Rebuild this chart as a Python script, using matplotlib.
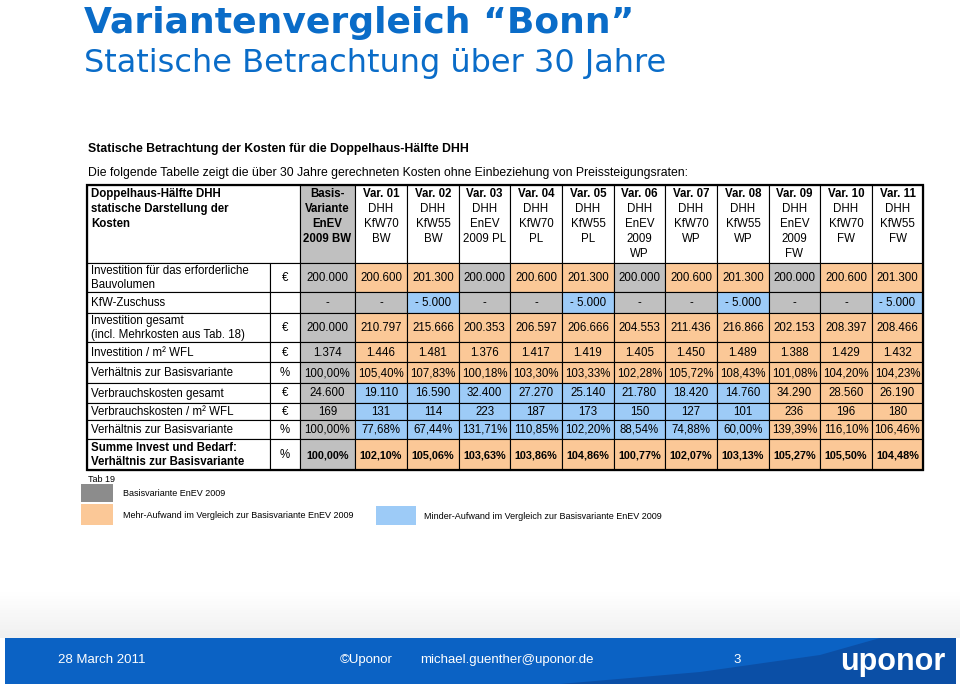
import matplotlib
matplotlib.use("Agg")
import matplotlib.pyplot as plt
from matplotlib.patches import Rectangle, Polygon
from matplotlib import font_manager
import numpy as np

# fonts: narrow face for the scanned table if we have one
installed = {f.name for f in font_manager.fontManager.ttflist}
NARROW = "Liberation Sans Narrow" if "Liberation Sans Narrow" in installed else "Liberation Sans"
SANS = "Liberation Sans"
WIDE = "DejaVu Sans"

# ---------------- data ----------------
title = "Variantenvergleich \u201cBonn\u201d"
subtitle = "Statische Betrachtung über 30 Jahre"
table_title = "Statische Betrachtung der Kosten für die Doppelhaus-Hälfte DHH"
table_intro = ("Die folgende Tabelle zeigt die über 30 Jahre gerechneten Kosten "
               "ohne Einbeziehung von Preissteigungsraten:")
corner_label = "Doppelhaus-Hälfte DHH\nstatische Darstellung der\nKosten"

col_names = ["Basis-", "Var. 01", "Var. 02", "Var. 03", "Var. 04", "Var. 05",
             "Var. 06", "Var. 07", "Var. 08", "Var. 09", "Var. 10", "Var. 11"]
col_desc = ["Variante\nEnEV\n2009 BW", "DHH\nKfW70\nBW", "DHH\nKfW55\nBW",
            "DHH\nEnEV\n2009 PL", "DHH\nKfW70\nPL", "DHH\nKfW55\nPL",
            "DHH\nEnEV\n2009\nWP", "DHH\nKfW70\nWP", "DHH\nKfW55\nWP",
            "DHH\nEnEV\n2009\nFW", "DHH\nKfW70\nFW", "DHH\nKfW55\nFW"]

row_labels = ["Investition für das erforderliche\nBauvolumen",
              "KfW-Zuschuss",
              "Investition gesamt\n(incl. Mehrkosten aus Tab. 18)",
              "Investition / m² WFL",
              "Verhältnis zur Basisvariante",
              "Verbrauchskosten gesamt",
              "Verbrauchskosten / m² WFL",
              "Verhältnis zur Basisvariante",
              "Summe Invest und Bedarf:\nVerhältnis zur Basisvariante"]
units = ["€", "", "€", "€", "%", "€", "€", "%", "%"]

invest = ["200.000", "200.600", "201.300", "200.000", "200.600", "201.300",
          "200.000", "200.600", "201.300", "200.000", "200.600", "201.300"]
kfw = ["-", "-", "- 5.000", "-", "-", "- 5.000",
       "-", "-", "- 5.000", "-", "-", "- 5.000"]
invest_total = ["200.000", "210.797", "215.666", "200.353", "206.597", "206.666",
                "204.553", "211.436", "216.866", "202.153", "208.397", "208.466"]
invest_m2 = ["1.374", "1.446", "1.481", "1.376", "1.417", "1.419",
             "1.405", "1.450", "1.489", "1.388", "1.429", "1.432"]
invest_ratio = ["100,00%", "105,40%", "107,83%", "100,18%", "103,30%", "103,33%",
                "102,28%", "105,72%", "108,43%", "101,08%", "104,20%", "104,23%"]
cons = ["24.600", "19.110", "16.590", "32.400", "27.270", "25.140",
        "21.780", "18.420", "14.760", "34.290", "28.560", "26.190"]
cons_m2 = ["169", "131", "114", "223", "187", "173",
           "150", "127", "101", "236", "196", "180"]
cons_ratio = ["100,00%", "77,68%", "67,44%", "131,71%", "110,85%", "102,20%",
              "88,54%", "74,88%", "60,00%", "139,39%", "116,10%", "106,46%"]
total_ratio = ["100,00%", "102,10%", "105,06%", "103,63%", "103,86%", "104,86%",
               "100,77%", "102,07%", "103,13%", "105,27%", "105,50%", "104,48%"]
rows = [invest, kfw, invest_total, invest_m2, invest_ratio,
        cons, cons_m2, cons_ratio, total_ratio]

# G = Basisvariante, O = Mehr-Aufwand, B = Minder-Aufwand
row_codes = ["GOOGOOGOOGOO", "GGBGGBGGBGGB", "GOOOOOOOOOOO", "GOOOOOOOOOOO",
             "GOOOOOOOOOOO", "GBBBBBBBBOOO", "GBBBBBBBBOOO", "GBBBBBBBBOOO",
             "GOOOOOOOOOOO"]

legend_items = ["Basisvariante EnEV 2009",
                "Mehr-Aufwand im Vergleich zur Basisvariante EnEV 2009",
                "Minder-Aufwand im Vergleich zur Basisvariante EnEV 2009"]

footer_date = "28 March 2011"
footer_copy = "\u00a9Uponor"
footer_mail = "michael.guenther@uponor.de"
footer_page = "3"

# ---------------- style / layout ----------------
cell_colors = {"G": "#c0c0c0", "O": "#fbc897", "B": "#9dcbf7"}
legend_colors = ["#8c8c8c", "#fbc897", "#9dcbf7"]
blue = "#0a6cc8"
fs = 8.3       # table body font size
lsp = 1.33     # line spacing inside header cells
lsp_body = 1.25

col_edges = [87, 270, 300, 355, 407, 459, 510, 562, 614, 665, 717, 769, 820, 872, 923]
row_edges = [185, 263, 292, 313, 342, 362, 383, 403, 420, 439, 470]

fig = plt.figure(figsize=(9.6, 6.86), dpi=100)
ax = fig.add_axes([0, 0, 1, 1])
ax.set_xlim(0, 960)
ax.set_ylim(686, 0)
ax.axis("off")

# slide title
ax.text(84, 33, title, fontsize=26, fontweight="bold", color=blue,
        family=WIDE, va="baseline")
ax.text(84, 72, subtitle, fontsize=23, color=blue, family=WIDE, va="baseline")

# table heading
ax.text(88, 152, table_title, fontsize=8.8, fontweight="bold", family=NARROW,
        va="baseline")
ax.text(88, 176, table_intro, fontsize=8.8, family=NARROW, va="baseline")

# header row
hy0, hy1 = row_edges[0], row_edges[1]
ax.add_patch(Rectangle((col_edges[0], hy0), col_edges[2] - col_edges[0], hy1 - hy0,
                       facecolor="white", edgecolor="black", lw=0.8))
ax.text(col_edges[0] + 4, hy0 + 3, corner_label, fontsize=fs, fontweight="bold",
        family=NARROW, va="top", ha="left", linespacing=lsp)
for j, (name, desc) in enumerate(zip(col_names, col_desc)):
    x0, x1 = col_edges[j + 2], col_edges[j + 3]
    fc = cell_colors["G"] if j == 0 else "white"
    ax.add_patch(Rectangle((x0, hy0), x1 - x0, hy1 - hy0,
                           facecolor=fc, edgecolor="black", lw=0.8))
    xc = (x0 + x1) / 2
    ax.text(xc, hy0 + 3, name, fontsize=fs, fontweight="bold", family=NARROW,
            ha="center", va="top")
    ax.text(xc, hy0 + 18, desc, fontsize=fs, family=NARROW, ha="center", va="top",
            fontweight="bold" if j == 0 else "normal", linespacing=lsp)

# body rows
for i, (label, unit, vals, codes) in enumerate(zip(row_labels, units, rows, row_codes)):
    y0, y1 = row_edges[i + 1], row_edges[i + 2]
    yc = (y0 + y1) / 2 + 0.5
    last = i == len(rows) - 1
    weight = "bold" if last else "normal"
    ax.add_patch(Rectangle((col_edges[0], y0), col_edges[1] - col_edges[0], y1 - y0,
                           facecolor="white", edgecolor="black", lw=0.8))
    ax.add_patch(Rectangle((col_edges[1], y0), col_edges[2] - col_edges[1], y1 - y0,
                           facecolor="white", edgecolor="black", lw=0.8))
    ax.text(col_edges[0] + 4, yc, label, fontsize=fs, family=NARROW, va="center",
            ha="left", fontweight=weight, linespacing=lsp_body)
    ax.text((col_edges[1] + col_edges[2]) / 2, yc, unit, fontsize=fs, family=NARROW,
            va="center", ha="center")
    for j, (v, c) in enumerate(zip(vals, codes)):
        x0, x1 = col_edges[j + 2], col_edges[j + 3]
        ax.add_patch(Rectangle((x0, y0), x1 - x0, y1 - y0,
                               facecolor=cell_colors[c], edgecolor="black", lw=0.8))
        ax.text((x0 + x1) / 2, yc, v, fontsize=fs if not last else 7.8,
                family=NARROW, va="center", ha="center", fontweight=weight)

# outer frame
ax.add_patch(Rectangle((col_edges[0], row_edges[0]), col_edges[-1] - col_edges[0],
                       row_edges[-1] - row_edges[0], fill=False,
                       edgecolor="black", lw=1.6))

# legend below the table
ax.text(88, 479, "Tab 19", fontsize=6.5, family=NARROW, va="center")
legend_boxes = [(81, 484, 32, 18), (81, 504, 32, 21), (376, 506, 40, 19)]
legend_text_x = [123, 123, 424]
for (bx, by, bw, bh), col, txt, tx in zip(legend_boxes, legend_colors,
                                          legend_items, legend_text_x):
    ax.add_patch(Rectangle((bx, by), bw, bh, facecolor=col, edgecolor="none"))
    ax.text(tx, by + bh / 2 + 1, txt, fontsize=6.5, family=NARROW, va="center")

# soft grey band above the footer
grad = np.linspace(0, 1, 50).reshape(-1, 1)
ax.imshow(grad, extent=(0, 960, 638, 592), cmap=matplotlib.colors.LinearSegmentedColormap.from_list(
    "band", ["#ffffff", "#f0f0f0"]), aspect="auto", zorder=0)

# footer bar
ax.add_patch(Rectangle((5, 638), 951, 46, facecolor="#0b62c4", edgecolor="none"))
ax.add_patch(Polygon([(560, 684), (700, 672), (820, 655), (880, 638), (956, 638),
                      (956, 684)], closed=True, facecolor="#0b4fa6", edgecolor="none"))
ax.text(58, 660, footer_date, fontsize=9.5, color="white", family=SANS, va="center")
ax.text(340, 660, footer_copy, fontsize=9.5, color="white", family=SANS, va="center")
ax.text(420, 660, footer_mail, fontsize=9.5, color="white", family=SANS, va="center")
ax.text(733, 660, footer_page, fontsize=9.5, color="white", family=SANS, va="center")
ax.text(945, 662, "uponor", fontsize=22, fontweight="bold", color="white",
        family=SANS, va="center", ha="right")

fig.savefig("out.png", dpi=100)
